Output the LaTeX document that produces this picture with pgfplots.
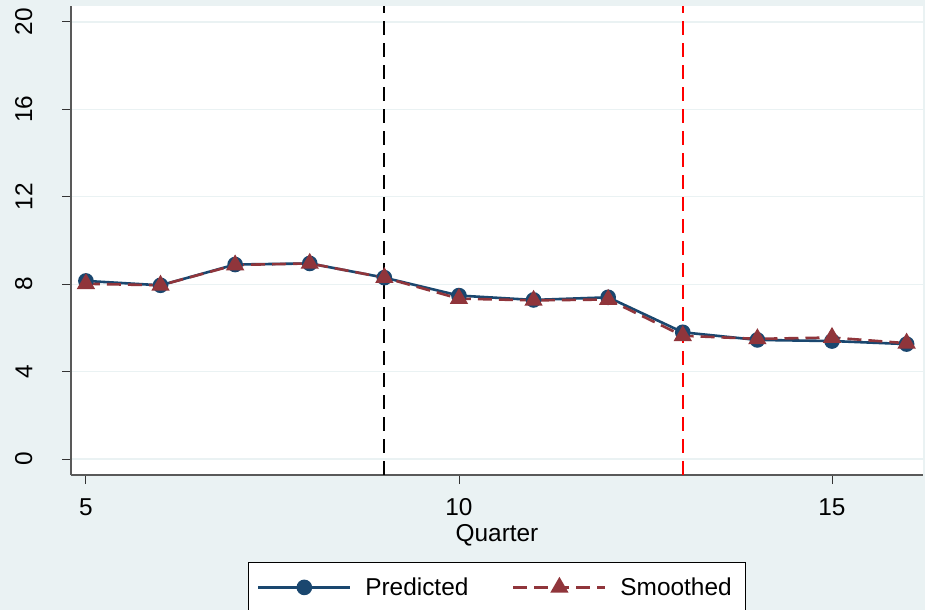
\documentclass[border=0pt]{standalone}
\usepackage{fontspec}
\setmainfont{Liberation Sans}
\usepackage{pgfplots}
\pgfplotsset{compat=1.18}
\definecolor{bg}{RGB}{234,242,243}
\definecolor{snavy}{RGB}{26,71,111}
\definecolor{smaroon}{RGB}{144,53,59}
\newcommand\bigf{\fontsize{24.4bp}{28bp}\selectfont}
\begin{document}
\begin{tikzpicture}
\useasboundingbox (0,0) rectangle (925bp,610bp);
\clip (0,0) rectangle (925bp,610bp);
\fill[bg] (0,0) rectangle (925bp,610bp);
\begin{axis}[
  at={(71bp,135bp)}, anchor=south west,
  scale only axis, width=852bp, height=469bp,
  xmin=4.8, xmax=16.22, ymin=-0.73, ymax=20.73,
  axis background/.style={fill=white},
  axis x line*=bottom, axis y line*=left,
  axis line style={-, draw=black!65, line width=1.3bp},
  xtick={5,10,15}, ytick={0,4,8,12,16,20},
  tick align=outside, major tick length=9bp,
  tick style={black!80, line width=0.9bp},
  ymajorgrids, grid style={bg, line width=1.3bp},
  tick label style={font=\bigf},
  /pgf/number format/assume math mode=true,
  yticklabel style={rotate=90, anchor=south, yshift=26bp},
  xticklabel style={yshift=-11bp},
  xlabel={Quarter}, xlabel style={font=\bigf, yshift=-2bp},
  legend columns=2,
  legend style={at={(0.5,0)}, anchor=north, yshift=-87bp, draw=black, line width=0.8bp,
    fill=white, font=\bigf, inner sep=0pt, nodes={inner sep=0pt}},
  legend cell align=left,
  legend image code/.code={\draw[mark repeat=2,mark phase=2,#1] plot coordinates {(0bp,0bp) (46bp,0bp) (92bp,0bp)};
    \path[draw=none,fill=none] (-10bp,-25bp) rectangle (107bp,25bp);},
]
\addplot[black, line width=2.2bp, dash pattern=on 14bp off 8bp, forget plot] coordinates {(9,-0.73) (9,20.73)};
\addplot[red, line width=2.2bp, dash pattern=on 14bp off 8bp, forget plot] coordinates {(13,-0.73) (13,20.73)};
\addplot[snavy, line width=2.6bp, mark=*, mark size=6.5bp, mark options={solid, fill=snavy}] coordinates {
(5,8.15) (6,7.95) (7,8.9) (8,8.95) (9,8.3) (10,7.48) (11,7.28) (12,7.4) (13,5.8) (14,5.45) (15,5.4) (16,5.26)};
\addlegendentry{Predicted\rule{35bp}{0pt}}
\addplot[smaroon, line width=2.6bp, dash pattern=on 14bp off 7bp, mark=triangle*, mark size=8bp, mark options={solid, fill=smaroon}] coordinates {
(5,8.02) (6,7.95) (7,8.88) (8,8.95) (9,8.3) (10,7.34) (11,7.26) (12,7.3) (13,5.64) (14,5.5) (15,5.56) (16,5.3)};
\addlegendentry{Smoothed\rule{14bp}{0pt}}
\end{axis}
\end{tikzpicture}
\end{document}
